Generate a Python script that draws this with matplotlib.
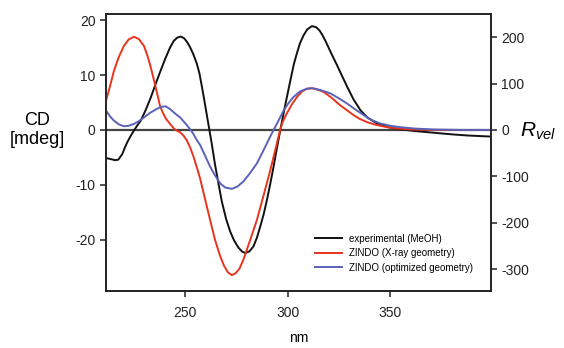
import numpy as np
import matplotlib.pyplot as plt

plt.rcParams['font.family'] = ['Liberation Sans', 'DejaVu Sans']
plt.rcParams['axes.unicode_minus'] = False
plt.rcParams['mathtext.fontset'] = 'custom'
plt.rcParams['mathtext.it'] = 'Liberation Sans:italic'
plt.rcParams['mathtext.rm'] = 'Liberation Sans'

# experimental CD spectrum (MeOH), mdeg
exp_nm = [211.5, 213.8, 216, 217.5, 219.4, 220.7, 221.9, 223.5, 225.1, 226.7, 228.4,
          230.8, 233.3, 235.7, 238.1, 240.4, 242.7, 244.5, 246.2, 247.9, 249.5, 251,
          252.4, 254, 255.7, 257, 258.1, 259.2, 260.2, 261.9, 263, 264.6, 266.3,
          267.9, 270, 272, 274, 276, 277.7, 279.3, 281.3, 283.3, 285, 286.6, 288.3,
          289.9, 291.5, 293.1, 294.3, 295.5, 296.5, 298.5, 301, 303, 304.5, 306,
          307.7, 309.5, 311.8, 313.8, 315.5, 317, 318.5, 320, 321.5, 324, 326.5,
          328.9, 332, 335.4, 339, 343.5, 349, 354.9, 362, 371, 380, 387.4, 393, 399]
exp_cd = [-5.1, -5.3, -5.5, -5.4, -4.4, -3.2, -2.2, -1.1, -0.1, 0.8, 1.7,
          3.6, 5.9, 8.4, 10.8, 13.0, 15.0, 16.2, 16.8, 17.0, 16.7, 16.0,
          15.1, 13.8, 12.1, 10.3, 8.1, 5.8, 3.6, -0.1, -2.5, -6.3, -9.8,
          -13.0, -16.2, -18.5, -20.2, -21.4, -22.1, -22.4, -22.1, -21.2, -19.6, -17.6, -15.3,
          -12.7, -9.8, -6.7, -4.2, -1.8, 0.2, 4.0, 8.5, 12.0, 14.0, 15.8,
          17.2, 18.3, 18.9, 18.7, 18.1, 17.2, 16.1, 14.9, 13.7, 11.8, 9.8,
          7.9, 5.6, 3.6, 2.2, 1.2, 0.5, 0.1, -0.2, -0.5, -0.8, -1.0, -1.1, -1.2]

# ZINDO, X-ray geometry (R_vel)
xray_nm = [211.5, 213.5, 215.4, 217.8, 220.2, 222.5, 225.1, 227.5, 230, 231.7, 233.3,
           235, 236.5, 237.8, 239.2, 240.6, 242.7, 244.6, 246.2, 247.6, 249.2, 250.8,
           252.5, 254, 255.7, 257.3, 259.8, 262.2, 264.6, 267.1, 269, 270.9, 272.8,
           274.6, 276.5, 278.4, 281.5, 285, 288.3, 291.5, 294, 296.3, 297.6, 299.6,
           302, 304.5, 307, 309.4, 311.8, 314.5, 317, 319.1, 322, 325.6, 329, 332.1,
           335, 338.6, 343, 348.4, 354, 359.8, 370, 399]
xray_r = [63, 95, 128, 158, 181, 195, 201, 196, 181, 160, 135,
          105, 77, 52, 37, 25, 13, 3, -2, -5, -12, -22,
          -38, -56, -80, -104, -150, -194, -237, -272, -293, -307, -313,
          -309, -299, -280, -240, -194, -140, -87, -42, 0, 18, 36,
          55, 71, 83, 89, 90, 87, 83, 77, 67, 53, 42, 32,
          24, 17, 11, 6, 3, 1, 0, 0]

# ZINDO, optimized geometry (R_vel)
opt_nm = [211.5, 213.5, 215.4, 217.8, 220.2, 222.5, 225.1, 227.5, 230, 233, 236.5,
          238.5, 240.6, 242.7, 245, 247.6, 250, 252.4, 254, 255.7, 257.3, 259.8,
          262.2, 264.6, 267.1, 269.5, 272.8, 275.5, 278.4, 281.5, 285, 288.3, 291.5,
          293.1, 295.5, 298, 300.4, 302.8, 306, 309.4, 312.3, 316, 320.7, 325, 328.9,
          333, 337, 341, 345.1, 350, 354.9, 362, 371, 385, 399]
opt_r = [42, 29, 20, 12, 8, 9, 13, 19, 27, 37, 46,
         50, 51, 45, 36, 27, 15, 2, -8, -22, -32, -56,
         -79, -98, -115, -124, -127, -122, -111, -94, -72, -43, -14,
         0, 20, 42, 58, 71, 83, 89, 90, 86, 79, 68, 57,
         44, 32, 21, 14, 9, 6, 3, 1, 0, 0]

left_ticks = [20, 10, 0, -10, -20]
right_ticks = [200, 100, 0, -100, -200, -300]
x_ticks = [250, 300, 350]

fig = plt.figure(figsize=(5.64, 3.48), dpi=100)
ax = fig.add_axes([106/564, 1-291/348, 385/564, 277/348])
ax2 = ax.twinx()

ylo, yhi = -29.3, 21.1
k = 11.85
ax.set_xlim(211.5, 399)
ax.set_ylim(ylo, yhi)
ax2.set_ylim(ylo*k, yhi*k)

ax.axhline(0, color='#444444', lw=1.6, zorder=1)
l1, = ax.plot(exp_nm, exp_cd, color='#111111', lw=1.4, label='experimental (MeOH)')
l2, = ax2.plot(xray_nm, xray_r, color='#e8341f', lw=1.4, label='ZINDO (X-ray geometry)')
l3, = ax2.plot(opt_nm, opt_r, color='#5a62b8', lw=1.4, label='ZINDO (optimized geometry)')

ax.set_xticks(x_ticks)
ax.set_yticks(left_ticks)
ax2.set_yticks(right_ticks)
for a in (ax, ax2):
    a.tick_params(direction='out', length=4, width=1.1, labelsize=10, colors='#222222')
    for s in a.spines.values():
        s.set_linewidth(1.2)
        s.set_color('#222222')
ax.tick_params(axis='x', pad=7)

ax.set_xlabel('nm', fontsize=10, labelpad=8)
fig.text(37/564, 1-130/348, 'CD\n[mdeg]', ha='center', va='center', fontsize=13,
         linespacing=1.1)
fig.text(520/564, 1-131/348, r'$R_{vel}$', ha='left', va='center', fontsize=15)

ax2.legend(handles=[l1, l2, l3], loc='lower right', bbox_to_anchor=(0.975, 0.035),
           frameon=False, fontsize=7, handlelength=2.8, handletextpad=0.7,
           labelspacing=0.45)

fig.savefig('out.png', dpi=100)
